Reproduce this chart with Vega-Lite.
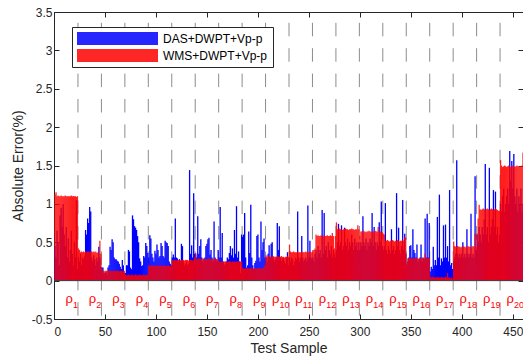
{
"$schema":"https://vega.github.io/schema/vega-lite/v6.json",
"width":469,"height":307,
"autosize":{"type":"none"},
"padding":{"left":54,"top":12,"right":0,"bottom":39},
"background":"white",
"config":{
 "view":{"stroke":"#262626","strokeWidth":1},
 "font":"Liberation Sans",
 "scale":{"continuousPadding":0},
 "axis":{"grid":false,"domainColor":"#262626","tickColor":"#262626","labelColor":"#262626","titleColor":"#262626","labelFont":"Liberation Sans","titleFont":"Liberation Sans","labelFontSize":12,"titleFontSize":14,"titleFontWeight":"normal","tickSize":-5,"domainWidth":1,"tickWidth":1}
},
"datasets":{
"bounds":[{"b":23.5},{"b":46.5},{"b":69.5},{"b":92.5},{"b":115.5},{"b":138.5},{"b":161.5},{"b":184.5},{"b":207.5},{"b":230.5},{"b":253.5},{"b":276.5},{"b":299.5},{"b":322.5},{"b":345.5},{"b":368.5},{"b":391.5},{"b":414.5},{"b":437.5}],
"labs":[{"k":"1","lx":11.2},{"k":"2","lx":34.2},{"k":"3","lx":57.2},{"k":"4","lx":80.2},{"k":"5","lx":103.2},{"k":"6","lx":126.2},{"k":"7","lx":149.2},{"k":"8","lx":172.2},{"k":"9","lx":195.2},{"k":"10","lx":213.7},{"k":"11","lx":236.7},{"k":"12","lx":259.7},{"k":"13","lx":282.7},{"k":"14","lx":305.7},{"k":"15","lx":328.7},{"k":"16","lx":351.7},{"k":"17","lx":374.7},{"k":"18","lx":397.7},{"k":"19","lx":420.7},{"k":"20","lx":443.7}],
"bars":[
{"s":1,"d":0.45,"w":1.12},{"s":2,"d":0.3,"w":1.15},{"s":3,"d":0.65,"w":1.1},{"s":4,"d":0.5,"w":1.11},{"s":5,"d":0.2,"w":1.1},{"s":6,"d":0.85,"w":1.1},{"s":7,"d":0.95,"w":1.11},{"s":8,"d":0.7,"w":1.1},{"s":9,"d":1.0,"w":1.1},{"s":10,"d":0.6,"w":1.1},{"s":11,"d":0.45,"w":1.11},{"s":12,"d":0.7,"w":1.1},{"s":13,"d":0.3,"w":1.1},{"s":14,"d":0.55,"w":1.1},{"s":15,"d":0.25,"w":1.1},{"s":16,"d":0.4,"w":1.1},{"s":17,"d":0.65,"w":1.11},{"s":18,"d":0.35,"w":1.1},{"s":19,"d":0.2,"w":1.1},{"s":20,"d":0.5,"w":1.1},{"s":21,"d":0.3,"w":1.1},{"s":22,"d":1.05,"w":1.09},{"s":23,"d":0.15,"w":1.1},
{"s":24,"d":0.3,"w":0.42},{"s":25,"d":0.25,"w":0.4},{"s":26,"d":0.35,"w":0.37},{"s":27,"d":0.2,"w":0.38},{"s":28,"d":0.3,"w":0.37},{"s":29,"d":0.28,"w":0.38},{"s":30,"d":0.32,"w":0.37},{"s":31,"d":0.66,"w":0.38},{"s":32,"d":0.6,"w":0.37},{"s":33,"d":0.81,"w":0.38},{"s":34,"d":0.75,"w":0.38},{"s":35,"d":0.96,"w":0.37},{"s":36,"d":0.9,"w":0.38},{"s":37,"d":0.3,"w":0.38},{"s":38,"d":0.25,"w":0.37},{"s":39,"d":0.33,"w":0.38},{"s":40,"d":0.28,"w":0.37},{"s":41,"d":0.2,"w":0.38},{"s":42,"d":0.3,"w":0.36},{"s":43,"d":0.25,"w":0.37},{"s":44,"d":0.44,"w":0.36},{"s":45,"d":0.3,"w":0.52},{"s":46,"d":0.18,"w":0.35},
{"s":47,"d":0.17,"w":0.15},{"s":48,"d":0.17,"w":0.13},{"s":49,"d":0.1,"w":0.13},{"s":50,"d":0.1,"w":0.12},{"s":51,"d":0.12,"w":0.13},{"s":52,"d":0.08,"w":0.13},{"s":53,"d":0.17,"w":0.12},{"s":54,"d":0.2,"w":0.13},{"s":55,"d":0.44,"w":0.13},{"s":56,"d":0.4,"w":0.13},{"s":57,"d":0.54,"w":0.12},{"s":58,"d":0.5,"w":0.13},{"s":59,"d":0.3,"w":0.13},{"s":60,"d":0.28,"w":0.13},{"s":61,"d":0.28,"w":0.12},{"s":62,"d":0.26,"w":0.13},{"s":63,"d":0.25,"w":0.13},{"s":64,"d":0.22,"w":0.12},{"s":65,"d":0.18,"w":0.13},{"s":66,"d":0.15,"w":0.13},{"s":67,"d":0.27,"w":0.12},{"s":68,"d":0.2,"w":0.13},{"s":69,"d":0.1,"w":0.13},
{"s":70,"d":0.1,"w":0.08},{"s":71,"d":0.2,"w":0.07},{"s":72,"d":0.2,"w":0.07},{"s":73,"d":0.4,"w":0.08},{"s":74,"d":0.38,"w":0.07},{"s":75,"d":0.17,"w":0.07},{"s":76,"d":0.15,"w":0.08},{"s":77,"d":0.85,"w":0.07},{"s":78,"d":0.8,"w":0.07},{"s":79,"d":0.71,"w":0.07},{"s":80,"d":0.69,"w":0.08},{"s":81,"d":0.66,"w":0.07},{"s":82,"d":0.58,"w":0.07},{"s":83,"d":0.5,"w":0.07},{"s":84,"d":0.29,"w":0.08},{"s":85,"d":0.25,"w":0.07},{"s":86,"d":0.19,"w":0.07},{"s":87,"d":0.2,"w":0.07},{"s":88,"d":0.32,"w":0.08},{"s":89,"d":0.3,"w":0.07},{"s":90,"d":0.49,"w":0.07},{"s":91,"d":0.45,"w":0.08},{"s":92,"d":0.36,"w":0.07},
{"s":93,"d":0.3,"w":0.2},{"s":94,"d":0.59,"w":0.19},{"s":95,"d":0.55,"w":0.19},{"s":96,"d":0.35,"w":0.2},{"s":97,"d":0.3,"w":0.19},{"s":98,"d":0.25,"w":0.19},{"s":99,"d":0.39,"w":0.19},{"s":100,"d":0.35,"w":0.2},{"s":101,"d":0.47,"w":0.19},{"s":102,"d":0.4,"w":0.19},{"s":103,"d":0.3,"w":0.19},{"s":104,"d":0.32,"w":0.2},{"s":105,"d":0.49,"w":0.19},{"s":106,"d":0.45,"w":0.19},{"s":107,"d":0.32,"w":0.19},{"s":108,"d":0.3,"w":0.2},{"s":109,"d":0.52,"w":0.19},{"s":110,"d":0.5,"w":0.19},{"s":111,"d":0.49,"w":0.19},{"s":112,"d":0.45,"w":0.2},{"s":113,"d":0.25,"w":0.19},{"s":114,"d":0.22,"w":0.19},{"s":115,"d":0.2,"w":0.19},
{"s":116,"d":0.3,"w":0.27},{"s":117,"d":0.34,"w":0.26},{"s":118,"d":0.3,"w":0.27},{"s":119,"d":0.81,"w":0.27},{"s":120,"d":0.3,"w":0.26},{"s":121,"d":0.29,"w":0.27},{"s":122,"d":0.25,"w":0.27},{"s":123,"d":0.28,"w":0.27},{"s":124,"d":0.26,"w":0.26},{"s":125,"d":0.48,"w":0.27},{"s":126,"d":0.45,"w":0.27},{"s":127,"d":0.25,"w":0.27},{"s":128,"d":0.2,"w":0.26},{"s":129,"d":0.22,"w":0.27},{"s":130,"d":0.25,"w":0.27},{"s":131,"d":0.2,"w":0.27},{"s":132,"d":0.22,"w":0.26},{"s":133,"d":1.44,"w":0.27},{"s":134,"d":0.35,"w":0.27},{"s":135,"d":0.46,"w":0.27},{"s":136,"d":0.3,"w":0.26},{"s":137,"d":1.14,"w":0.27},{"s":138,"d":0.35,"w":0.3},
{"s":139,"d":0.34,"w":0.36},{"s":140,"d":0.3,"w":0.28},{"s":141,"d":0.84,"w":0.28},{"s":142,"d":0.35,"w":0.29},{"s":143,"d":0.45,"w":0.28},{"s":144,"d":0.54,"w":0.28},{"s":145,"d":0.3,"w":0.28},{"s":146,"d":0.25,"w":0.28},{"s":147,"d":0.28,"w":0.29},{"s":148,"d":0.3,"w":0.28},{"s":149,"d":0.45,"w":0.28},{"s":150,"d":0.48,"w":0.28},{"s":151,"d":0.54,"w":0.28},{"s":152,"d":0.56,"w":0.29},{"s":153,"d":0.34,"w":0.28},{"s":154,"d":0.4,"w":0.28},{"s":155,"d":0.3,"w":0.28},{"s":156,"d":0.25,"w":0.28},{"s":157,"d":0.77,"w":0.29},{"s":158,"d":0.3,"w":0.28},{"s":159,"d":0.28,"w":0.28},{"s":160,"d":0.25,"w":0.28},{"s":161,"d":0.4,"w":0.28},
{"s":162,"d":0.3,"w":0.25},{"s":163,"d":0.96,"w":0.24},{"s":164,"d":0.3,"w":0.25},{"s":165,"d":0.62,"w":0.25},{"s":166,"d":0.25,"w":0.24},{"s":167,"d":0.2,"w":0.25},{"s":168,"d":0.22,"w":0.25},{"s":169,"d":0.25,"w":0.25},{"s":170,"d":0.3,"w":0.24},{"s":171,"d":0.28,"w":0.25},{"s":172,"d":0.36,"w":0.25},{"s":173,"d":0.45,"w":0.25},{"s":174,"d":0.33,"w":0.24},{"s":175,"d":0.42,"w":0.25},{"s":176,"d":0.3,"w":0.25},{"s":177,"d":0.66,"w":0.25},{"s":178,"d":0.35,"w":0.24},{"s":179,"d":0.97,"w":0.25},{"s":180,"d":0.3,"w":0.25},{"s":181,"d":0.38,"w":0.25},{"s":182,"d":0.25,"w":0.24},{"s":183,"d":0.1,"w":0.25},{"s":184,"d":0.6,"w":0.25},
{"s":185,"d":0.57,"w":0.16},{"s":186,"d":0.6,"w":0.16},{"s":187,"d":0.88,"w":0.15},{"s":188,"d":0.3,"w":0.16},{"s":189,"d":0.17,"w":0.16},{"s":190,"d":0.2,"w":0.16},{"s":191,"d":0.64,"w":0.15},{"s":192,"d":0.36,"w":0.16},{"s":193,"d":0.99,"w":0.16},{"s":194,"d":0.3,"w":0.16},{"s":195,"d":0.2,"w":0.15},{"s":196,"d":0.15,"w":0.16},{"s":197,"d":0.23,"w":0.16},{"s":198,"d":0.26,"w":0.16},{"s":199,"d":0.58,"w":0.15},{"s":200,"d":0.6,"w":0.16},{"s":201,"d":0.3,"w":0.16},{"s":202,"d":0.25,"w":0.16},{"s":203,"d":0.77,"w":0.15},{"s":204,"d":0.4,"w":0.16},{"s":205,"d":0.5,"w":0.16},{"s":206,"d":0.55,"w":0.17},{"s":207,"d":0.3,"w":0.2},
{"s":208,"d":0.3,"w":0.33},{"s":209,"d":0.25,"w":0.31},{"s":210,"d":0.35,"w":0.31},{"s":211,"d":0.46,"w":0.32},{"s":212,"d":0.3,"w":0.31},{"s":213,"d":0.48,"w":0.31},{"s":214,"d":0.5,"w":0.31},{"s":215,"d":0.3,"w":0.32},{"s":216,"d":0.25,"w":0.31},{"s":217,"d":0.28,"w":0.31},{"s":218,"d":0.3,"w":0.31},{"s":219,"d":0.75,"w":0.32},{"s":220,"d":0.4,"w":0.31},{"s":221,"d":0.71,"w":0.31},{"s":222,"d":0.3,"w":0.31},{"s":223,"d":0.25,"w":0.32},{"s":224,"d":0.28,"w":0.31},{"s":225,"d":0.3,"w":0.31},{"s":226,"d":0.25,"w":0.3},{"s":227,"d":0.22,"w":0.31},{"s":228,"d":0.3,"w":0.31},{"s":229,"d":0.37,"w":0.32},{"s":230,"d":0.2,"w":0.31},
{"s":231,"d":0.3,"w":0.47},{"s":232,"d":0.25,"w":0.38},{"s":233,"d":0.3,"w":0.37},{"s":234,"d":0.28,"w":0.37},{"s":235,"d":0.2,"w":0.38},{"s":236,"d":0.25,"w":0.37},{"s":237,"d":0.3,"w":0.37},{"s":238,"d":0.28,"w":0.37},{"s":239,"d":0.9,"w":0.38},{"s":240,"d":0.3,"w":0.37},{"s":241,"d":0.25,"w":0.37},{"s":242,"d":0.3,"w":0.37},{"s":243,"d":0.58,"w":0.38},{"s":244,"d":0.3,"w":0.37},{"s":245,"d":0.25,"w":0.37},{"s":246,"d":0.28,"w":0.37},{"s":247,"d":0.3,"w":0.38},{"s":248,"d":0.25,"w":0.37},{"s":249,"d":0.98,"w":0.37},{"s":250,"d":0.3,"w":0.37},{"s":251,"d":0.52,"w":0.38},{"s":252,"d":0.3,"w":0.37},{"s":253,"d":0.28,"w":0.37},
{"s":254,"d":0.3,"w":0.4},{"s":255,"d":0.25,"w":0.4},{"s":256,"d":0.35,"w":0.42},{"s":257,"d":0.4,"w":0.6},{"s":258,"d":0.3,"w":0.58},{"s":259,"d":0.45,"w":0.59},{"s":260,"d":0.35,"w":0.58},{"s":261,"d":0.4,"w":0.58},{"s":262,"d":0.3,"w":0.59},{"s":263,"d":0.92,"w":0.58},{"s":264,"d":0.35,"w":0.58},{"s":265,"d":0.88,"w":0.59},{"s":266,"d":0.4,"w":0.58},{"s":267,"d":0.45,"w":0.58},{"s":268,"d":0.3,"w":0.59},{"s":269,"d":0.5,"w":0.58},{"s":270,"d":0.4,"w":0.58},{"s":271,"d":0.35,"w":0.59},{"s":272,"d":0.45,"w":0.58},{"s":273,"d":0.3,"w":0.62},{"s":274,"d":0.4,"w":0.58},{"s":275,"d":0.35,"w":0.42},{"s":276,"d":0.3,"w":0.58},
{"s":277,"d":0.4,"w":0.76},{"s":278,"d":0.5,"w":0.67},{"s":279,"d":0.74,"w":0.67},{"s":280,"d":0.45,"w":0.68},{"s":281,"d":0.5,"w":0.67},{"s":282,"d":0.72,"w":0.67},{"s":283,"d":0.4,"w":0.66},{"s":284,"d":0.45,"w":0.67},{"s":285,"d":0.69,"w":0.67},{"s":286,"d":0.5,"w":0.68},{"s":287,"d":0.45,"w":0.67},{"s":288,"d":0.55,"w":0.67},{"s":289,"d":0.4,"w":0.66},{"s":290,"d":0.5,"w":0.67},{"s":291,"d":0.45,"w":0.67},{"s":292,"d":0.6,"w":0.68},{"s":293,"d":0.5,"w":0.67},{"s":294,"d":0.4,"w":0.67},{"s":295,"d":0.55,"w":0.66},{"s":296,"d":0.45,"w":0.67},{"s":297,"d":0.5,"w":0.67},{"s":298,"d":0.4,"w":0.72},{"s":299,"d":0.5,"w":0.67},
{"s":300,"d":0.4,"w":0.58},{"s":301,"d":0.5,"w":0.64},{"s":302,"d":0.45,"w":0.64},{"s":303,"d":0.84,"w":0.65},{"s":304,"d":0.5,"w":0.64},{"s":305,"d":0.45,"w":0.64},{"s":306,"d":0.55,"w":0.63},{"s":307,"d":0.4,"w":0.64},{"s":308,"d":0.5,"w":0.64},{"s":309,"d":0.45,"w":0.65},{"s":310,"d":0.55,"w":0.64},{"s":311,"d":0.5,"w":0.64},{"s":312,"d":0.88,"w":0.63},{"s":313,"d":0.45,"w":0.64},{"s":314,"d":0.7,"w":0.64},{"s":315,"d":0.5,"w":0.65},{"s":316,"d":0.4,"w":0.64},{"s":317,"d":0.5,"w":0.64},{"s":318,"d":0.45,"w":0.7},{"s":319,"d":0.76,"w":0.64},{"s":320,"d":0.5,"w":0.64},{"s":321,"d":1.03,"w":0.63},{"s":322,"d":0.45,"w":0.63},
{"s":323,"d":0.4,"w":0.61},{"s":324,"d":0.45,"w":0.6},{"s":325,"d":1.01,"w":0.52},{"s":326,"d":0.4,"w":0.52},{"s":327,"d":0.35,"w":0.53},{"s":328,"d":0.45,"w":0.52},{"s":329,"d":0.4,"w":0.51},{"s":330,"d":0.35,"w":0.52},{"s":331,"d":0.67,"w":0.52},{"s":332,"d":0.4,"w":0.53},{"s":333,"d":0.45,"w":0.52},{"s":334,"d":0.35,"w":0.51},{"s":335,"d":0.4,"w":0.52},{"s":336,"d":1.14,"w":0.52},{"s":337,"d":0.45,"w":0.53},{"s":338,"d":0.69,"w":0.52},{"s":339,"d":0.4,"w":0.51},{"s":340,"d":0.35,"w":0.52},{"s":341,"d":0.45,"w":0.52},{"s":342,"d":1.05,"w":0.53},{"s":343,"d":0.4,"w":0.52},{"s":344,"d":0.61,"w":0.57},{"s":345,"d":0.35,"w":0.56},
{"s":346,"d":0.2,"w":0.22},{"s":347,"d":0.25,"w":0.29},{"s":348,"d":0.3,"w":0.29},{"s":349,"d":0.45,"w":0.3},{"s":350,"d":0.46,"w":0.29},{"s":351,"d":0.3,"w":0.29},{"s":352,"d":0.67,"w":0.28},{"s":353,"d":0.4,"w":0.29},{"s":354,"d":0.36,"w":0.29},{"s":355,"d":0.3,"w":0.3},{"s":356,"d":0.47,"w":0.29},{"s":357,"d":0.25,"w":0.29},{"s":358,"d":0.28,"w":0.28},{"s":359,"d":0.3,"w":0.29},{"s":360,"d":0.47,"w":0.29},{"s":361,"d":0.25,"w":0.3},{"s":362,"d":0.3,"w":0.29},{"s":363,"d":0.28,"w":0.29},{"s":364,"d":0.81,"w":0.35},{"s":365,"d":0.3,"w":0.29},{"s":366,"d":0.87,"w":0.29},{"s":367,"d":0.3,"w":0.3},{"s":368,"d":0.75,"w":0.29},
{"s":369,"d":0.12,"w":0.05},{"s":370,"d":0.18,"w":0.04},{"s":371,"d":0.15,"w":0.04},{"s":372,"d":0.44,"w":0.05},{"s":373,"d":0.2,"w":0.04},{"s":374,"d":0.27,"w":0.04},{"s":375,"d":0.2,"w":0.04},{"s":376,"d":0.83,"w":0.05},{"s":377,"d":0.3,"w":0.04},{"s":378,"d":1.12,"w":0.04},{"s":379,"d":0.2,"w":0.04},{"s":380,"d":0.29,"w":0.05},{"s":381,"d":0.25,"w":0.04},{"s":382,"d":0.72,"w":0.04},{"s":383,"d":0.3,"w":0.04},{"s":384,"d":0.73,"w":0.05},{"s":385,"d":0.3,"w":0.04},{"s":386,"d":0.45,"w":0.1},{"s":387,"d":0.25,"w":0.04},{"s":388,"d":1.18,"w":0.04},{"s":389,"d":0.2,"w":0.03},{"s":390,"d":0.23,"w":0.04},{"s":391,"d":0.15,"w":0.02},
{"s":392,"d":0.25,"w":0.51},{"s":393,"d":0.3,"w":0.45},{"s":394,"d":0.35,"w":0.44},{"s":395,"d":1.57,"w":0.44},{"s":396,"d":0.35,"w":0.45},{"s":397,"d":0.3,"w":0.44},{"s":398,"d":0.35,"w":0.44},{"s":399,"d":0.3,"w":0.43},{"s":400,"d":0.35,"w":0.44},{"s":401,"d":0.5,"w":0.45},{"s":402,"d":0.3,"w":0.44},{"s":403,"d":0.35,"w":0.44},{"s":404,"d":0.3,"w":0.43},{"s":405,"d":0.67,"w":0.44},{"s":406,"d":0.35,"w":0.45},{"s":407,"d":0.3,"w":0.44},{"s":408,"d":0.35,"w":0.44},{"s":409,"d":0.87,"w":0.43},{"s":410,"d":0.3,"w":0.44},{"s":411,"d":0.35,"w":0.45},{"s":412,"d":0.3,"w":0.44},{"s":413,"d":1.36,"w":0.61},{"s":414,"d":0.4,"w":0.44},
{"s":415,"d":0.6,"w":0.61},{"s":416,"d":0.5,"w":0.81},{"s":417,"d":0.7,"w":0.99},{"s":418,"d":0.6,"w":0.93},{"s":419,"d":0.5,"w":0.92},{"s":420,"d":0.7,"w":0.93},{"s":421,"d":0.6,"w":0.94},{"s":422,"d":0.8,"w":0.93},{"s":423,"d":1.52,"w":0.92},{"s":424,"d":0.6,"w":0.93},{"s":425,"d":0.7,"w":0.94},{"s":426,"d":0.5,"w":0.93},{"s":427,"d":1.47,"w":0.92},{"s":428,"d":0.6,"w":0.93},{"s":429,"d":0.7,"w":0.94},{"s":430,"d":0.8,"w":0.93},{"s":431,"d":1.18,"w":0.92},{"s":432,"d":0.7,"w":0.93},{"s":433,"d":1.16,"w":0.94},{"s":434,"d":0.6,"w":0.93},{"s":435,"d":0.7,"w":0.92},{"s":436,"d":0.5,"w":0.91},{"s":437,"d":0.6,"w":0.91},
{"s":438,"d":1.0,"w":1.57},{"s":439,"d":0.9,"w":1.5},{"s":440,"d":1.1,"w":1.48},{"s":441,"d":1.2,"w":1.49},{"s":442,"d":0.9,"w":1.5},{"s":443,"d":1.0,"w":1.49},{"s":444,"d":1.1,"w":1.48},{"s":445,"d":1.2,"w":1.49},{"s":446,"d":1.0,"w":1.5},{"s":447,"d":1.69,"w":1.49},{"s":448,"d":1.3,"w":1.48},{"s":449,"d":1.56,"w":1.49},{"s":450,"d":1.2,"w":1.5},{"s":451,"d":1.65,"w":1.49},{"s":452,"d":1.1,"w":1.48},{"s":453,"d":1.0,"w":1.49},{"s":454,"d":1.2,"w":1.5},{"s":455,"d":0.9,"w":1.49},{"s":456,"d":1.1,"w":1.48},{"s":457,"d":1.0,"w":1.49},{"s":458,"d":1.2,"w":1.49},{"s":459,"d":0.9,"w":1.5},{"s":460,"d":1.0,"w":1.67}
]},
"layer":[
 {"data":{"name":"bounds"},
  "mark":{"type":"rule","color":"#8c8c8c","strokeWidth":1,"strokeDash":[13.5,11.9],"strokeDashOffset":14.6},
  "encoding":{"x":{"field":"b","type":"quantitative","scale":{"domain":[0,460],"nice":false,"zero":false,"padding":0},
    "axis":{"orient":"top","values":[0,50,100,150,200,250,300,350,400,450],"labels":false,"title":null}}}},
 {"data":{"name":"bars"},
  "mark":{"type":"bar","width":1.3},
  "encoding":{
   "x":{"field":"s","type":"quantitative","scale":{"domain":[0,460],"nice":false,"zero":false,"padding":0},
     "axis":{"orient":"bottom","values":[0,50,100,150,200,250,300,350,400,450],"title":"Test Sample","labelPadding":12,"titlePadding":4}},
   "y":{"field":"d","type":"quantitative","scale":{"domain":[-0.5,3.5],"nice":false,"zero":false},
     "axis":{"orient":"left","values":[-0.5,0,0.5,1,1.5,2,2.5,3,3.5],"title":"Absolute Error(%)","labelPadding":7,"titlePadding":6,
       "labelExpr":"datum.value < 0 ? '-' + format(-datum.value, '~g') : format(datum.value, '~g')"}},
   "color":{"datum":"DAS+DWPT+Vp-p","type":"nominal",
     "scale":{"domain":["DAS+DWPT+Vp-p","WMS+DWPT+Vp-p"],"range":["#0000ff","#ff0000"]},
     "legend":{"orient":"none","legendX":18,"legendY":15,"direction":"vertical","title":null,
       "symbolType":"M-1,-0.16H1V0.16H-1Z","symbolSize":6561,"symbolStrokeWidth":0,"symbolOpacity":1,
       "clipHeight":13,"rowPadding":4,"padding":5,"labelFontSize":12,"labelFont":"Liberation Sans","labelColor":"#000000","labelOffset":5,
       "strokeColor":"#262626","fillColor":"#ffffff"}}}},
 {"data":{"name":"bars"},
  "mark":{"type":"bar","width":1.3,"opacity":0.85},
  "encoding":{
   "x":{"field":"s","type":"quantitative","axis":null},
   "y":{"field":"w","type":"quantitative","axis":null},
   "color":{"datum":"WMS+DWPT+Vp-p","type":"nominal"}}},
 {"data":{"values":[{"z":0}]},
  "mark":{"type":"rule","color":"#404040","strokeWidth":1},
  "encoding":{"y":{"field":"z","type":"quantitative",
    "axis":{"orient":"right","values":[-0.5,0,0.5,1,1.5,2,2.5,3,3.5],"labels":false,"title":null}}}},
 {"data":{"name":"labs"},
  "mark":{"type":"text","align":"left","baseline":"alphabetic","fontSize":13,"color":"#ff0000","font":"Liberation Sans"},
  "encoding":{"x":{"field":"lx","type":"quantitative","axis":null},"y":{"datum":-0.29,"axis":null},"text":{"value":"ρ"}}},
 {"data":{"name":"labs"},
  "mark":{"type":"text","align":"left","baseline":"alphabetic","fontSize":9,"color":"#ff0000","font":"Liberation Sans","dx":7.5,"dy":5},
  "encoding":{"x":{"field":"lx","type":"quantitative","axis":null},"y":{"datum":-0.29,"axis":null},"text":{"field":"k"}}}
],
"resolve":{"axis":{"x":"independent","y":"independent"}}
}
